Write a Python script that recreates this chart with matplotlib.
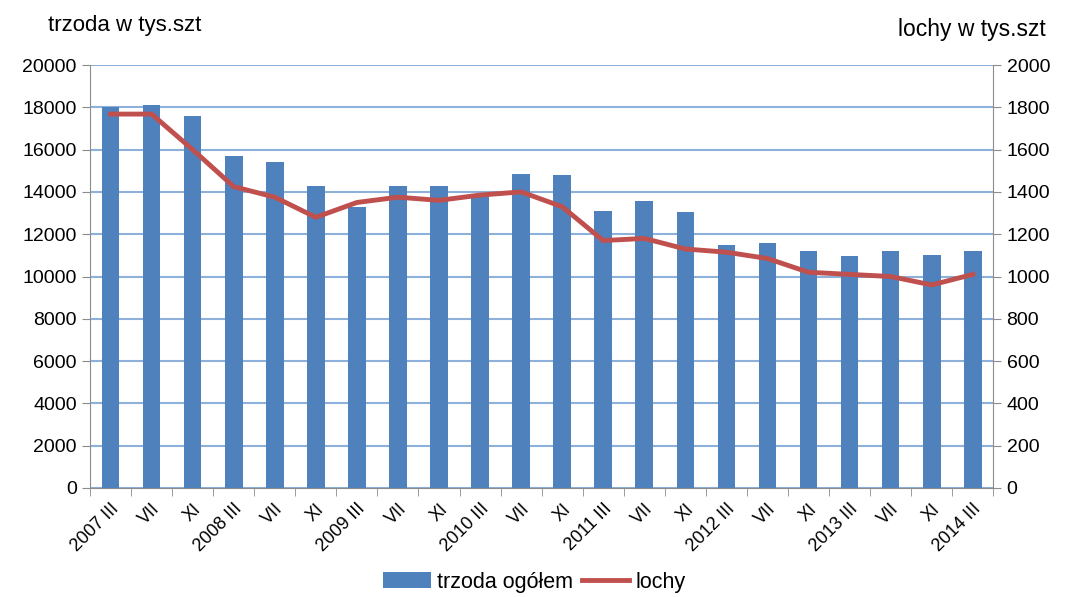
import matplotlib.pyplot as plt
import numpy as np

plt.rcParams['font.family'] = ['Liberation Sans', 'DejaVu Sans']

labels = ["2007 III", "VII", "XI", "2008 III", "VII", "XI", "2009 III", "VII", "XI",
          "2010 III", "VII", "XI", "2011 III", "VII", "XI", "2012 III", "VII", "XI",
          "2013 III", "VII", "XI", "2014 III"]
trzoda = [18000, 18100, 17600, 15700, 15400, 14300, 13300, 14300, 14300,
          13900, 14850, 14800, 13100, 13550, 13050, 11500, 11600, 11200,
          10950, 11200, 11000, 11200]
lochy = [1768, 1768, 1600, 1425, 1375, 1280, 1350, 1375, 1360,
         1385, 1400, 1330, 1170, 1180, 1130, 1115, 1085, 1020,
         1010, 1000, 960, 1010]

x = np.arange(len(labels))
grid_col = '#8EB1DC'
axis_col = '#8C8C8C'

fig = plt.figure(figsize=(10.69, 5.97), dpi=100)
ax = fig.add_axes([0.0842, 0.1826, 0.845, 0.7085])
ax2 = ax.twinx()

bars = ax.bar(x, trzoda, width=0.43, color='#4F81BD', zorder=3, label='trzoda ogółem')
line, = ax2.plot(x, lochy, color='#C0504D', lw=3.5, zorder=4, label='lochy')

ax.set_xlim(-0.5, len(labels) - 0.5)
ax.set_ylim(0, 20000)
ax2.set_ylim(0, 2000)
ax.set_yticks(np.arange(0, 20001, 2000))
ax2.set_yticks(np.arange(0, 2001, 200))
ax.yaxis.grid(True, color=grid_col, lw=1.5, zorder=0)
ax.set_axisbelow(True)

ax.set_xticks(x)
ax.set_xticklabels(labels, rotation=45, ha='right', rotation_mode='anchor', fontsize=13)
ax.set_xticks(np.arange(-0.5, len(labels), 1), minor=True)
ax.tick_params(axis='x', which='major', length=0, pad=9)
ax.tick_params(axis='x', which='minor', length=6, color=axis_col)
ax.tick_params(axis='y', length=6, color=axis_col, labelsize=14)
ax2.tick_params(axis='y', length=6, color=axis_col, labelsize=14)

for a in (ax, ax2):
    for s in a.spines.values():
        s.set_visible(False)
ax.spines['left'].set_visible(True)
ax.spines['left'].set_color(axis_col)
ax.spines['bottom'].set_visible(True)
ax.spines['bottom'].set_color(axis_col)
ax2.spines['right'].set_visible(True)
ax2.spines['right'].set_color(axis_col)

fig.text(0.045, 0.958, "trzoda w tys.szt", fontsize=16, ha='left', va='center')
fig.text(0.978, 0.95, "lochy w tys.szt", fontsize=16.5, ha='right', va='center')

fig.legend(handles=[bars, line], loc='lower center', bbox_to_anchor=(0.5, -0.025),
           ncol=2, frameon=False, fontsize=15.5, handlelength=2.2, columnspacing=0.4,
           handletextpad=0.3)

fig.savefig('out.png', dpi=100)
